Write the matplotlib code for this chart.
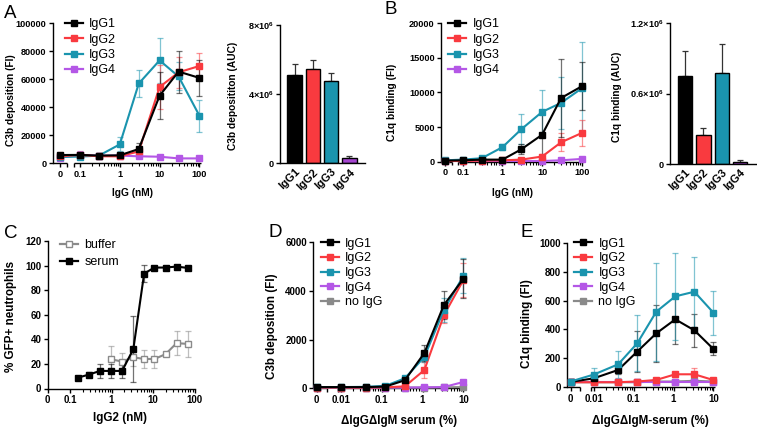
import numpy as np
import matplotlib
matplotlib.use("Agg")
import matplotlib.pyplot as plt
from matplotlib.lines import Line2D

plt.rcParams.update({
    "font.family": ["Liberation Sans", "DejaVu Sans"],
    "font.weight": "bold",
    "mathtext.fontset": "custom",
    "mathtext.rm": "Liberation Sans:bold",
    "mathtext.bf": "Liberation Sans:bold",
    "mathtext.it": "Liberation Sans:bold",
    "axes.linewidth": 1.0,
})

# ---------------- data ----------------
subclasses = ["IgG1", "IgG2", "IgG3", "IgG4"]
col = {"IgG1": "#000000", "IgG2": "#F93A3F", "IgG3": "#1A94AE", "IgG4": "#B457E6", "no IgG": "#8A8A8A"}
bar_col = ["#000000", "#F93A3F", "#1A94AE", "#A445CF"]

# Panel A (C3b deposition)
a_x = [0, 0.1, 0.3, 1, 3, 10, 30, 100]
a_y = {
    "IgG1": [5900, 6000, 5500, 5700, 10200, 48300, 65500, 61000],
    "IgG2": [5000, 6000, 5000, 5000, 8500, 54500, 65000, 69500],
    "IgG3": [4500, 4800, 5500, 13500, 57000, 73500, 62000, 34000],
    "IgG4": [4000, 6000, 5500, 5500, 5000, 4700, 3500, 3500],
}
a_e = {
    "IgG1": [1500, 1500, 800, 1000, 4000, 17000, 15000, 13000],
    "IgG2": [3000, 1500, 800, 800, 3000, 15500, 11000, 9500],
    "IgG3": [1500, 1500, 800, 5000, 9500, 15800, 10000, 11500],
    "IgG4": [1500, 2500, 1000, 800, 600, 500, 400, 400],
}
a_auc = [5.11e6, 5.46e6, 4.78e6, 0.31e6]
a_auc_e = [0.66e6, 0.49e6, 0.47e6, 0.12e6]

# Panel B (C1q binding)
b_x = [0, 0.1, 0.3, 1, 3, 10, 30, 100]
b_y = {
    "IgG1": [150, 200, 300, 300, 1800, 3900, 9200, 10900],
    "IgG2": [100, 100, 150, 200, 300, 750, 2800, 4150],
    "IgG3": [200, 300, 500, 2100, 4700, 7200, 8500, 10600],
    "IgG4": [100, 100, 100, 100, 100, 100, 200, 400],
}
b_e = {
    "IgG1": [100, 100, 100, 150, 700, 3500, 5700, 3500],
    "IgG2": [50, 50, 50, 50, 100, 300, 1300, 1900],
    "IgG3": [100, 100, 150, 400, 2200, 3200, 3800, 6700],
    "IgG4": [50, 50, 50, 50, 50, 50, 80, 100],
}
b_auc = [0.754e6, 0.245e6, 0.776e6, 0.014e6]
b_auc_e = [0.213e6, 0.059e6, 0.244e6, 0.016e6]

# Panel C (% GFP+ neutrophils)
c_x_serum = [0.153, 0.284, 0.524, 0.97, 1.79, 3.35, 6.1, 10.8, 20, 36.9, 68]
c_serum = [8.8, 11.3, 14.3, 14.3, 14.3, 32, 93.5, 98.4, 98.4, 99.2, 98.1]
c_serum_e = [1, 2, 5.5, 5.5, 5.5, 27, 7, 1.5, 1, 1, 1]
c_x_buffer = [0.97, 1.79, 3.35, 6.1, 10.8, 20, 36.9, 68]
c_buffer = [23.8, 21.9, 25.4, 24, 24, 27.9, 36.9, 36.3]
c_buffer_e = [10.5, 7, 7, 7.5, 7.5, 1.5, 10, 10.5]

# Panel D / E (serum titration)
de_x = [0, 0.01, 0.041, 0.123, 0.37, 1.11, 3.33, 10]
de_series = ["IgG1", "IgG2", "IgG3", "IgG4", "no IgG"]
d_y = {
    "IgG1": [50, 50, 50, 70, 330, 1450, 3420, 4500],
    "IgG2": [30, 30, 30, 40, 80, 750, 3000, 4450],
    "IgG3": [50, 50, 60, 100, 410, 1290, 3220, 4620],
    "IgG4": [30, 30, 30, 30, 30, 40, 50, 260],
    "no IgG": [30, 30, 30, 30, 30, 30, 40, 50],
}
d_e = {
    "IgG1": [30, 30, 30, 30, 80, 330, 580, 800],
    "IgG2": [20, 20, 20, 20, 40, 330, 300, 700],
    "IgG3": [30, 30, 30, 40, 80, 200, 500, 720],
    "IgG4": [20, 20, 20, 20, 20, 20, 30, 60],
    "no IgG": [20, 20, 20, 20, 20, 20, 20, 20],
}
e_y = {
    "IgG1": [37, 62, 120, 247, 373, 470, 394, 265],
    "IgG2": [35, 35, 35, 40, 51, 90, 90, 50],
    "IgG3": [40, 88, 159, 304, 523, 629, 661, 516],
    "IgG4": [35, 35, 35, 35, 35, 35, 35, 35],
    "no IgG": [35, 35, 35, 35, 40, 40, 45, 40],
}
e_e = {
    "IgG1": [10, 15, 30, 143, 198, 170, 115, 45],
    "IgG2": [5, 5, 5, 5, 10, 15, 45, 10],
    "IgG3": [10, 43, 94, 194, 340, 303, 242, 152],
    "IgG4": [5, 5, 5, 5, 5, 5, 5, 5],
    "no IgG": [5, 5, 5, 5, 5, 5, 5, 5],
}

# ---------------- helpers ----------------
W, H = 757, 432
fig = plt.figure(figsize=(W / 100, H / 100), dpi=100)


def add_ax(l, t, r, b):
    return fig.add_axes([l / W, 1 - b / H, (r - l) / W, (b - t) / H])


def ftext(x, y, s, **kw):
    fig.text(x / W, 1 - y / H, s, **kw)


def style(ax, ts=6.6):
    for s in ["top", "right"]:
        ax.spines[s].set_visible(False)
    ax.tick_params(which="major", length=3, width=1.0, labelsize=ts, pad=1.5)
    ax.tick_params(which="minor", length=1.8, width=0.8)


def break_axis(ax, zpos, lo, hi, gap, ticks, labels, minors, hpx):
    thr = 0.5 * (gap[0] + gap[1]) if gap else zpos + 0.2

    def fwd(x):
        x = np.asarray(x, dtype=float)
        safe = np.where(x > 0, x, 1.0)
        return np.where(x > 0, np.log10(safe), zpos + x)

    def inv(y):
        y = np.asarray(y, dtype=float)
        return np.where(y > thr, 10.0 ** np.minimum(y, 30), y - zpos)

    ax.set_xscale("function", functions=(fwd, inv))
    ax.set_xlim(lo - zpos, 10.0 ** hi)
    ax.set_xticks(ticks, labels)
    ax.set_xticks(minors, minor=True)
    ax.xaxis.set_minor_formatter(plt.NullFormatter())
    if gap is None:
        return
    ax.spines["bottom"].set_visible(False)
    f1 = (gap[0] - lo) / (hi - lo)
    f2 = (gap[1] - lo) / (hi - lo)
    dy = 3.5 / hpx
    kw = dict(transform=ax.transAxes, color="black", lw=1.0, clip_on=False, solid_capstyle="butt")
    ax.add_line(Line2D([0, f1], [0, 0], **kw))
    ax.add_line(Line2D([f2, 1], [0, 0], **kw))
    ax.add_line(Line2D([f1, f1], [0, -dy], **kw))
    ax.add_line(Line2D([f2, f2], [0, -dy], **kw))


def series(ax, x, y, e, c, ms=4.0, lw=1.5, mfc=None, z=3):
    ax.errorbar(x, y, yerr=e, fmt="none", ecolor=c, alpha=0.55, elinewidth=0.9,
                capsize=2.3, capthick=0.9, zorder=z, clip_on=False)
    ax.plot(x, y, color=c, lw=lw, marker="s", ms=ms, mfc=mfc if mfc else c,
            mec=c, mew=1.0, zorder=z + 0.5, clip_on=False)


def legend(ax, names, colors, xy, fs=9.0, spacing=0.26, ms=4.0, mfcs=None):
    hs = []
    for i, (n, c) in enumerate(zip(names, colors)):
        mfc = mfcs[i] if mfcs else c
        hs.append(Line2D([], [], color=c, lw=1.6, marker="s", ms=ms, mfc=mfc, mec=c))
    leg = ax.legend(hs, names, loc="upper left", bbox_to_anchor=(xy[0] / W, 1 - xy[1] / H),
                    bbox_transform=fig.transFigure, frameon=False, borderpad=0, borderaxespad=0,
                    handlelength=1.4, handletextpad=0.55, labelspacing=spacing,
                    prop={"size": fs, "weight": "normal"})
    return leg


log_minors = [m * 10.0 ** k for k in range(-3, 2) for m in range(2, 10)]


def bar_panel(ax, vals, errs, ymax, yt, ytl):
    xs = np.arange(len(vals))
    ax.bar(xs, vals, width=0.78, color=bar_col, edgecolor="black", linewidth=1.0, zorder=2)
    ax.errorbar(xs, vals, yerr=[np.zeros(len(vals)), errs], fmt="none", ecolor="#333333",
                elinewidth=0.9, capsize=2.3, capthick=0.9, zorder=1)
    ax.set_xlim(-0.8, 3.85)
    ax.set_ylim(0, ymax)
    ax.set_yticks(yt, ytl)
    ax.set_xticks(xs, subclasses, rotation=45, ha="right", va="top", rotation_mode="anchor")
    style(ax)
    ax.tick_params(axis="x", length=0, pad=2.5, labelsize=8.0)


LAB = 7.3
LAB2 = 8.4
TS2 = 7.0

# ---------------- Panel A line ----------------
axA = add_ax(52.5, 23.3, 201, 163.3)
style(axA)
for s in ["IgG4", "IgG3", "IgG2", "IgG1"]:
    series(axA, a_x, a_y[s], a_e[s], col[s])
axA.set_ylim(0, 100000)
axA.set_yticks(range(0, 100001, 20000))
break_axis(axA, -1.50, -1.69, 2.04, (-1.32, -1.16), [0, 0.1, 1, 10, 100],
           ["0", "0.1", "1", "10", "100"], [m for m in log_minors if 0.1 < m < 100], 140)
legend(axA, subclasses, [col[s] for s in subclasses], (65, 18.5))
ftext(11, 100, "C3b deposition (FI)", rotation=90, ha="center", va="center", fontsize=LAB)
ftext(133, 193, "IgG (nM)", ha="center", va="center", fontsize=LAB)

# ---------------- Panel A bar ----------------
axAb = add_ax(280, 25, 365, 163.3)
bar_panel(axAb, a_auc, a_auc_e, 8e6, [0, 4e6, 8e6],
          ["0", r"$4{\times}10^{6}$", r"$8{\times}10^{6}$"])
ftext(233, 96, "C3b deposititon (AUC)", rotation=90, ha="center", va="center", fontsize=LAB)

# ---------------- Panel B line ----------------
axB = add_ax(441, 23.3, 583, 161.7)
style(axB)
for s in ["IgG4", "IgG3", "IgG2", "IgG1"]:
    series(axB, b_x, b_y[s], b_e[s], col[s])
axB.set_ylim(0, 20000)
axB.set_yticks(range(0, 20001, 5000))
break_axis(axB, -1.45, -1.55, 2.03, (-1.28, -1.12), [0, 0.1, 1, 10, 100],
           ["0", "0.1", "1", "10", "100"], [m for m in log_minors if 0.1 < m < 100], 138)
legend(axB, subclasses, [col[s] for s in subclasses], (448, 18.5))
ftext(392, 102, "C1q binding (FI)", rotation=90, ha="center", va="center", fontsize=LAB)
ftext(513, 193, "IgG (nM)", ha="center", va="center", fontsize=LAB)

# ---------------- Panel B bar ----------------
axBb = add_ax(670, 23.3, 756, 164)
bar_panel(axBb, b_auc, b_auc_e, 1.2e6, [0, 0.6e6, 1.2e6],
          ["0", r"$0.6{\times}10^{6}$", r"$1.2{\times}10^{6}$"])
ftext(617, 97, "C1q binding (AUC)", rotation=90, ha="center", va="center", fontsize=LAB)

# ---------------- Panel C ----------------
axC = add_ax(47.7, 241, 194.5, 388.5)
style(axC, TS2)
series(axC, c_x_buffer, c_buffer, c_buffer_e, "#8A8A8A", ms=5.0, mfc="white")
series(axC, c_x_serum, c_serum, c_serum_e, "#000000", ms=5.0)
axC.set_ylim(0, 120)
axC.set_yticks(range(0, 121, 20))
break_axis(axC, -1.54, -1.54, 2.0, None, [0, 0.1, 1, 10, 100],
           ["0", "0.1", "1", "10", "100"], [m for m in log_minors if 0.1 < m < 100], 147)
legend(axC, ["buffer", "serum"], ["#8A8A8A", "#000000"], (60, 239.5), ms=5.0,
       spacing=0.37, mfcs=["white", "#000000"])
ftext(11, 316, "% GFP+ neutrophils", rotation=90, ha="center", va="center", fontsize=LAB2)
ftext(120, 418, "IgG2 (nM)", ha="center", va="center", fontsize=LAB2)

# ---------------- Panel D ----------------
axD = add_ax(313, 242.3, 465, 388.3)
style(axD, TS2)
for s in ["no IgG", "IgG4", "IgG2", "IgG3", "IgG1"]:
    series(axD, de_x, d_y[s], d_e[s], col[s])
axD.set_ylim(0, 6000)
axD.set_yticks(range(0, 6001, 2000))
break_axis(axD, -2.59, -2.68, 1.04, (-2.33, -2.07), [0, 0.01, 0.1, 1, 10],
           ["0", "0.01", "0.1", "1", "10"], [m for m in log_minors if 0.01 < m < 10], 146)
legend(axD, de_series, [col[s] for s in de_series], (321, 237.5), spacing=0.22)
ftext(272, 326, "C3b deposition (FI)", rotation=90, ha="center", va="center", fontsize=LAB2)
ftext(399, 421, "\u0394IgG\u0394IgM serum (%)", ha="center", va="center", fontsize=LAB2)

# ---------------- Panel E ----------------
axE = add_ax(567, 242.7, 715, 387.3)
style(axE, TS2)
for s in ["no IgG", "IgG4", "IgG2", "IgG1", "IgG3"]:
    series(axE, de_x, e_y[s], e_e[s], col[s])
axE.set_ylim(0, 1000)
axE.set_yticks(range(0, 1001, 200))
break_axis(axE, -2.58, -2.67, 1.04, (-2.35, -2.08), [0, 0.01, 0.1, 1, 10],
           ["0", "0.01", "0.1", "1", "10"], [m for m in log_minors if 0.01 < m < 10], 145)
legend(axE, de_series, [col[s] for s in de_series], (574, 237.5), spacing=0.22)
ftext(527, 324, "C1q binding (FI)", rotation=90, ha="center", va="center", fontsize=LAB2)
ftext(650, 421, "\u0394IgG\u0394IgM-serum (%)", ha="center", va="center", fontsize=LAB2)

# ---------------- panel letters ----------------
for (x, y, s) in [(4, 14, "A"), (384, 10, "B"), (4, 233, "C"), (269, 232, "D"), (521, 232, "E")]:
    ftext(x, y, s, ha="left", va="center", fontsize=13.5, fontweight="normal")

fig.savefig("out.png", dpi=100)
